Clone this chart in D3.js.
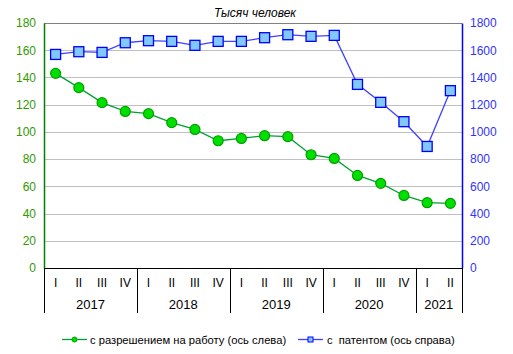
<!DOCTYPE html>
<html>
<head>
<meta charset="utf-8">
<script src="https://cdn.jsdelivr.net/npm/d3@7"></script>
<style>
  body { margin: 0; background: #fff; }
  svg { font-family: "Liberation Sans", Arial, sans-serif; }
</style>
</head>
<body>
<svg id="chart" width="513" height="354"></svg>
<script>
const quarters = ['I', 'II', 'III', 'IV', 'I', 'II', 'III', 'IV', 'I', 'II', 'III', 'IV', 'I', 'II', 'III', 'IV', 'I', 'II'];
const years = ['2017', '2018', '2019', '2020', '2021'];
const yearQuarters = [4, 4, 4, 4, 2];
const permitValues = [143, 132.5, 121.5, 115, 113.4, 106.8, 101.8, 93.5, 95.2, 97.2, 96.5, 83.2, 80.5, 68, 62.2, 53.3, 48, 47.5];
const patentValues = [1569, 1589, 1584, 1655, 1670, 1665, 1636, 1665, 1665, 1692, 1714, 1702, 1709, 1349, 1217, 1075, 893, 1303];
const leftTicks = [0, 20, 40, 60, 80, 100, 120, 140, 160, 180];
const rightTicks = [0, 200, 400, 600, 800, 1000, 1200, 1400, 1600, 1800];

const svg = d3.select('#chart');
const M = { left: 44, right: 462, top: 23, bottom: 268 };
const idx = d3.range(quarters.length);

const x = d3.scaleBand().domain(idx).range([M.left, M.right]);
const yL = d3.scaleLinear().domain([0, 180]).range([M.bottom, M.top]);
const yR = d3.scaleLinear().domain([0, 1800]).range([M.bottom, M.top]);
const cx = i => x(i) + x.bandwidth() / 2;

// grid
svg.append('g').selectAll('line').data(leftTicks.slice(1, -1)).join('line')
    .attr('x1', M.left).attr('x2', M.right)
    .attr('y1', d => Math.round(yL(d)) + 0.5).attr('y2', d => Math.round(yL(d)) + 0.5)
    .attr('stroke', '#c0c0c0').attr('stroke-width', 1);

// top border
svg.append('line').attr('x1', M.left).attr('x2', M.right)
    .attr('y1', M.top + 0.5).attr('y2', M.top + 0.5)
    .attr('stroke', '#808080');

// left axis
const axL = svg.append('g').attr('transform', `translate(${M.left},0)`)
    .call(d3.axisLeft(yL).tickValues(leftTicks).tickSize(0).tickPadding(8).tickFormat(d => d));
axL.select('.domain').attr('stroke', '#008000').attr('stroke-width', 1.5);
axL.selectAll('text').attr('fill', '#339900').style('font-size', '12px');

// right axis
const axR = svg.append('g').attr('transform', `translate(${M.right},0)`)
    .call(d3.axisRight(yR).tickValues(rightTicks).tickSize(0).tickPadding(8).tickFormat(d => d));
axR.select('.domain').attr('stroke', '#0000ff').attr('stroke-width', 1.5);
axR.selectAll('text').attr('fill', '#3333ff').style('font-size', '12px');

// bottom category axis
svg.append('line').attr('x1', M.left).attr('x2', M.right)
    .attr('y1', M.bottom + 0.5).attr('y2', M.bottom + 0.5)
    .attr('stroke', '#000');

svg.append('g').selectAll('text').data(idx).join('text')
    .attr('x', cx).attr('y', 287)
    .attr('text-anchor', 'middle').style('font-size', '12px').attr('fill', '#000')
    .text(i => quarters[i]);

let start = 0;
const bounds = [0];
yearQuarters.forEach(n => { start += n; bounds.push(start); });
svg.append('g').selectAll('line').data(bounds).join('line')
    .attr('x1', i => i === quarters.length ? M.right + 0.5 : Math.round(x(i)) + 0.5)
    .attr('x2', i => i === quarters.length ? M.right + 0.5 : Math.round(x(i)) + 0.5)
    .attr('y1', M.bottom).attr('y2', 313)
    .attr('stroke', '#000');

svg.append('g').selectAll('text').data(years).join('text')
    .attr('x', (d, k) => (x(bounds[k]) + (bounds[k + 1] === quarters.length ? M.right : x(bounds[k + 1]))) / 2)
    .attr('y', 309)
    .attr('text-anchor', 'middle').style('font-size', '13px').attr('fill', '#000')
    .text(d => d);

// title
svg.append('text').attr('x', 255).attr('y', 17)
    .attr('text-anchor', 'middle').style('font-size', '12px').style('font-style', 'italic')
    .attr('fill', '#000').text('Тысяч человек');

// patent series
svg.append('path').datum(patentValues)
    .attr('fill', 'none').attr('stroke', '#4040ff').attr('stroke-width', 1.3)
    .attr('d', d3.line().x((d, i) => cx(i)).y(d => yR(d)));
svg.append('g').selectAll('rect').data(patentValues).join('rect')
    .attr('x', (d, i) => cx(i) - 5).attr('y', d => yR(d) - 5)
    .attr('width', 10).attr('height', 10)
    .attr('fill', '#80c8ff').attr('stroke', '#0000ff').attr('stroke-width', 1.3);

// permit series
svg.append('path').datum(permitValues)
    .attr('fill', 'none').attr('stroke', '#00a030').attr('stroke-width', 1.3)
    .attr('d', d3.line().x((d, i) => cx(i)).y(d => yL(d)));
svg.append('g').selectAll('circle').data(permitValues).join('circle')
    .attr('cx', (d, i) => cx(i)).attr('cy', d => yL(d)).attr('r', 5)
    .attr('fill', '#00e000').attr('stroke', '#00a000').attr('stroke-width', 1.2);

// legend
const lg = svg.append('g').style('font-size', '11.2px');
lg.append('line').attr('x1', 62).attr('x2', 87).attr('y1', 339.5).attr('y2', 339.5)
    .attr('stroke', '#00a030').attr('stroke-width', 1.3);
lg.append('circle').attr('cx', 74.5).attr('cy', 339.5).attr('r', 2.5)
    .attr('fill', '#00e000').attr('stroke', '#00a000');
lg.append('text').attr('x', 90).attr('y', 344).text('с разрешением на работу (ось слева)');
lg.append('line').attr('x1', 298).attr('x2', 323).attr('y1', 339.5).attr('y2', 339.5)
    .attr('stroke', '#4040ff').attr('stroke-width', 1.3);
lg.append('rect').attr('x', 308).attr('y', 337).attr('width', 5).attr('height', 5)
    .attr('fill', '#80c8ff').attr('stroke', '#0000ff');
lg.append('text').attr('x', 327).attr('y', 344).attr('xml:space', 'preserve').text('с  патентом (ось справа)');
</script>
</body>
</html>
